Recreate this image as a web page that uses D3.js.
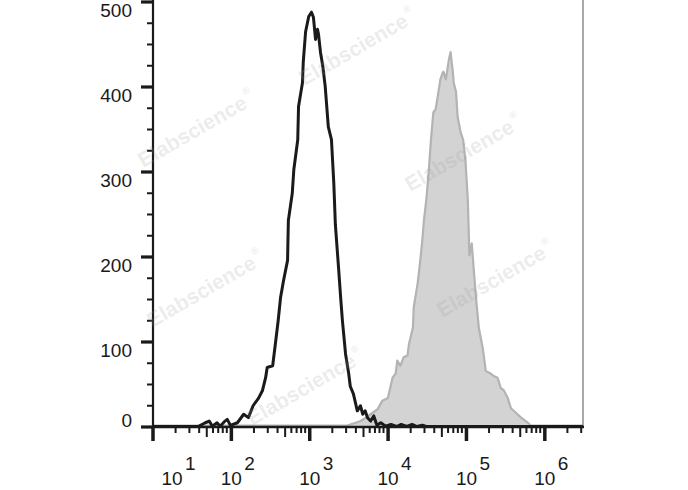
<!DOCTYPE html>
<html>
<head>
<meta charset="utf-8">
<script src="https://cdn.jsdelivr.net/npm/d3@7"></script>
<style>
html,body{margin:0;padding:0;background:#fff;}
svg{display:block;font-family:"Liberation Sans",Arial,sans-serif;}
</style>
</head>
<body>
<svg id="chart" width="688" height="490"></svg>
<script>
// ---- data (x as log10 of fluorescence, y as event counts) ----
const blackLog = [1.0,1.6,1.68,1.73,1.77,1.83,1.87,1.92,1.96,2.0,2.09,2.17,2.23,2.29,2.36,2.41,2.45,2.47,2.54,2.58,2.61,2.64,2.68,2.73,2.74,2.79,2.81,2.86,2.87,2.92,2.93,2.96,3.0,3.035,3.06,3.087,3.112,3.125,3.15,3.18,3.21,3.25,3.29,3.32,3.34,3.38,3.41,3.43,3.47,3.51,3.53,3.57,3.62,3.66,3.69,3.72,3.75,3.79,3.83,3.87,3.92,3.98,4.05,4.12,4.18,4.25,4.32,4.38,4.45,4.5,6.5];
const blackCounts = [0,1,5,7,1,5,1,6,9,2,5,15,11,25,34,43,58,70,72,102,125,152,173,196,243,275,303,338,377,405,429,465,483,488,482,456,468,462,441,424,401,353,338,287,238,188,149,125,86,63,48,39,19,25,15,19,11,7,13,2,5,1,3,0,3,0,3,0,2,0,0];

const grayLog = [1.0,3.4,3.5,3.6,3.66,3.73,3.79,3.88,3.94,4.01,4.07,4.11,4.13,4.17,4.21,4.26,4.28,4.33,4.34,4.39,4.42,4.45,4.47,4.5,4.53,4.56,4.59,4.62,4.66,4.68,4.71,4.72,4.75,4.77,4.79,4.81,4.84,4.85,4.88,4.9,4.94,4.97,5.0,5.03,5.04,5.05,5.08,5.13,5.17,5.22,5.26,5.32,5.36,5.41,5.45,5.49,5.54,5.58,5.64,5.71,5.77,5.83,5.92,6.5];
const grayCounts = [0,0,2,5,7,11,15,21,31,34,58,63,78,72,82,84,98,117,141,169,193,220,243,267,299,338,370,374,397,409,417,418,409,421,433,441,417,405,394,365,346,338,314,267,235,202,216,157,117,93,66,63,60,58,46,43,34,22,17,11,7,2,0,0];

const yTicks = [0,100,200,300,400,500];
const xDecades = [1,2,3,4,5,6];
const watermarkText = "Elabscience";

// ---- layout ----
const svg = d3.select("#chart");
const x = d3.scaleLog().domain([10, Math.pow(10,6.5)]).range([152, 583]);
const y = d3.scaleLinear().domain([0,500]).range([427, 2]);

const gray = grayLog.map((v,i)=>({x:Math.pow(10,v), y:grayCounts[i]}));
const black = blackLog.map((v,i)=>({x:Math.pow(10,v), y:blackCounts[i]}));

// gray filled histogram
svg.append("path").datum(gray)
  .attr("d", d3.area().x(d=>x(d.x)).y0(y(0)).y1(d=>y(d.y)))
  .attr("fill","#d3d3d3").attr("stroke","none");
svg.append("path").datum(gray)
  .attr("d", d3.line().x(d=>x(d.x)).y(d=>Math.min(y(d.y), y(0)-1.5)))
  .attr("fill","none").attr("stroke","#b3b3b3").attr("stroke-width",2.2).attr("stroke-linejoin","round");

// black line histogram
svg.append("path").datum(black)
  .attr("d", d3.line().x(d=>x(d.x)).y(d=>Math.min(y(d.y), y(0)-0.5)))
  .attr("fill","none").attr("stroke","#1a1a1a").attr("stroke-width",3).attr("stroke-linejoin","round");

// right frame line
svg.append("line").attr("x1",583).attr("x2",583).attr("y1",0).attr("y2",y(0))
  .attr("stroke","#555").attr("stroke-width",1);

// y axis
const yAxisG = svg.append("g");
yAxisG.append("line").attr("x1",153).attr("x2",153).attr("y1",0).attr("y2",y(0)+1)
  .attr("stroke","#1a1a1a").attr("stroke-width",2.2);
const yMinor = d3.range(0,501,25).filter(v=>v%100!==0);
yAxisG.selectAll(".ymin").data(yMinor).enter().append("line")
  .attr("x1",147).attr("x2",153).attr("y1",d=>y(d)).attr("y2",d=>y(d))
  .attr("stroke","#1a1a1a").attr("stroke-width",2);
yAxisG.selectAll(".ymaj").data(yTicks).enter().append("line")
  .attr("x1",141).attr("x2",153).attr("y1",d=>y(d)).attr("y2",d=>y(d))
  .attr("stroke","#1a1a1a").attr("stroke-width",3.2);
yAxisG.selectAll(".ylab").data(yTicks).enter().append("text")
  .attr("x",132).attr("y",d=>y(d)+(d===0?0:15))
  .attr("text-anchor","end").attr("font-size",19).attr("fill","#1a1a1a")
  .text(d=>d);

// x axis
const xAxisG = svg.append("g");
xAxisG.append("line").attr("x1",152).attr("x2",584).attr("y1",y(0)).attr("y2",y(0))
  .attr("stroke","#1a1a1a").attr("stroke-width",2.6);
const xMinor = [];
for (let e=1; e<=6; e++) for (let m=2; m<=9; m++) { const v=m*Math.pow(10,e); if (v<=Math.pow(10,6.5)) xMinor.push({v:v,m:m}); }
xAxisG.selectAll(".xmin").data(xMinor).enter().append("line")
  .attr("x1",d=>x(d.v)).attr("x2",d=>x(d.v)).attr("y1",y(0)).attr("y2",d=>y(0)+(d.m===5?10:6))
  .attr("stroke","#1a1a1a").attr("stroke-width",2);
xAxisG.selectAll(".xmaj").data(xDecades).enter().append("line")
  .attr("x1",d=>x(Math.pow(10,d))+1).attr("x2",d=>x(Math.pow(10,d))+1).attr("y1",y(0)).attr("y2",y(0)+14)
  .attr("stroke","#1a1a1a").attr("stroke-width",3.5);
const xl = xAxisG.selectAll(".xlab").data(xDecades).enter().append("g")
  .attr("transform",d=>`translate(${x(Math.pow(10,d)) + (d===1?20:1)},0)`);
xl.append("text").attr("x",0).attr("y",485).attr("text-anchor","middle")
  .attr("font-size",19).attr("fill","#1a1a1a").text("10");
xl.append("text").attr("x",13).attr("y",470).attr("text-anchor","start")
  .attr("font-size",19).attr("fill","#1a1a1a").text(d=>d);

// watermarks
const wm = [[358,48],[197,130],[464,154],[206,290],[496,280],[306,388]];
const wg = svg.append("g").attr("pointer-events","none");
wm.forEach(p=>{
  const t = wg.append("text").attr("transform",`translate(${p[0]},${p[1]}) rotate(-30)`)
    .attr("text-anchor","middle").attr("dominant-baseline","middle")
    .attr("font-size",21).attr("font-weight","bold").attr("fill","#9a9a9a").attr("fill-opacity",0.2);
  t.append("tspan").text(watermarkText);
  t.append("tspan").attr("font-size",10).attr("dy",-9).attr("dx",2).text("®");
});
</script>
</body>
</html>
